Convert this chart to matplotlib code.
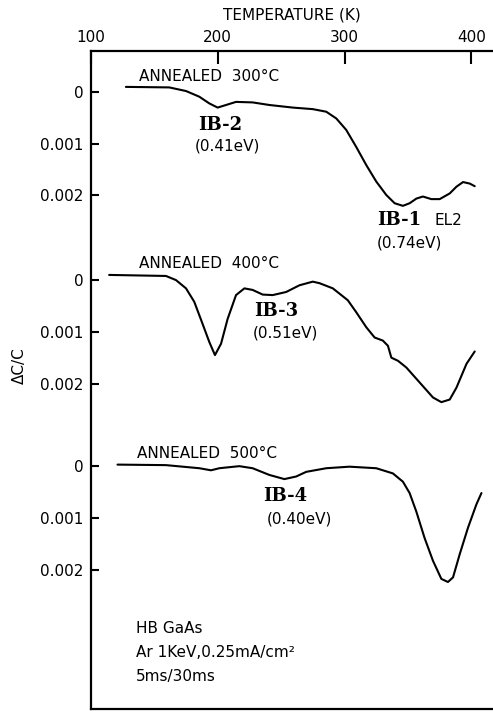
import matplotlib
matplotlib.use('Agg')
import matplotlib.pyplot as plt

# DLTS spectra, HB GaAs after Ar sputtering, three anneal temperatures
# temperatures (K) and dC/C in units of 1e-3 (positive = downward)
t_300 = [127.7, 161.9, 175.1, 185.6, 193.5, 200.0, 205.3, 214.5, 227.6, 240.8,
         259.2, 275.0, 285.6, 293.5, 301.3, 309.2, 317.1, 325.0, 332.9, 339.5,
         346.0, 351.3, 356.6, 361.8, 368.4, 375.0, 382.9, 388.2, 393.4, 398.7,
         402.6]
dc_300 = [-0.10, -0.09, -0.02, 0.09, 0.22, 0.30, 0.26, 0.19, 0.20, 0.25,
          0.30, 0.33, 0.38, 0.51, 0.73, 1.06, 1.41, 1.73, 1.99, 2.15,
          2.20, 2.15, 2.06, 2.02, 2.07, 2.07, 1.96, 1.83, 1.74, 1.77,
          1.82]

t_400 = [114.5, 159.3, 167.2, 175.1, 181.6, 188.2, 193.5, 197.9, 202.7, 207.9,
         214.5, 221.1, 227.6, 235.5, 243.4, 254.0, 264.5, 275.0, 280.3, 290.8,
         302.6, 309.2, 317.1, 323.7, 330.2, 334.2, 336.9, 342.1, 348.7, 359.2,
         369.7, 376.3, 382.9, 388.2, 396.1, 402.6]
dc_400 = [-0.10, -0.08, 0.0, 0.16, 0.42, 0.85, 1.20, 1.45, 1.23, 0.75,
          0.29, 0.16, 0.19, 0.28, 0.29, 0.23, 0.10, 0.03, 0.06, 0.16,
          0.39, 0.62, 0.91, 1.11, 1.17, 1.27, 1.50, 1.56, 1.69, 1.98,
          2.27, 2.36, 2.31, 2.08, 1.62, 1.38]

t_500 = [121.1, 159.3, 185.6, 194.8, 201.3, 217.1, 227.6, 240.8, 252.6, 261.9,
         269.8, 285.6, 303.9, 325.0, 338.1, 346.0, 351.3, 356.6, 363.1, 369.7,
         376.3, 381.5, 385.5, 390.8, 397.3, 403.9, 407.9]
dc_500 = [-0.03, -0.02, 0.04, 0.08, 0.04, 0.0, 0.04, 0.17, 0.25, 0.20,
          0.11, 0.04, 0.01, 0.04, 0.14, 0.30, 0.52, 0.88, 1.39, 1.83,
          2.18, 2.24, 2.15, 1.70, 1.19, 0.74, 0.52]

x_ticks = [100, 200, 300, 400]
y_tick_vals = [0, 1, 2]
y_tick_labels = ['0', '0.001', '0.002']

# vertical offset of each spectrum (in 1e-3 units)
offsets = [0.0, 3.636, 7.234]

fig = plt.figure(figsize=(4.93, 7.13), dpi=100)
ax = fig.add_axes([0.184, 0.0056, 0.816, 0.9233])

for t, dc, off in zip([t_300, t_400, t_500], [dc_300, dc_400, dc_500], offsets):
    ax.plot(t, [v + off for v in dc], color='black', lw=1.5,
            solid_joinstyle='round', solid_capstyle='round')

ax.set_xlim(100, 417)
ax.set_ylim(11.93, -0.80)

# ticks
ax.xaxis.tick_top()
ax.set_xticks(x_ticks)
ax.set_xticklabels([str(v) for v in x_ticks], fontsize=11)
ax.tick_params(axis='x', direction='in', length=9, width=1.5, pad=4)
yt, yl = [], []
for off in offsets:
    for v, lab in zip(y_tick_vals, y_tick_labels):
        yt.append(v + off)
        yl.append(lab)
ax.set_yticks(yt)
ax.set_yticklabels(yl, fontsize=11)
ax.tick_params(axis='y', direction='in', length=6, width=1.5, pad=5)

for s in ['left', 'top', 'bottom']:
    ax.spines[s].set_linewidth(1.6)
ax.spines['right'].set_visible(False)

ax.xaxis.set_label_position('top')
ax.set_xlabel('TEMPERATURE (K)', fontsize=11, labelpad=8)
fig.text(0.04, 1 - 366 / 713, 'ΔC/C', rotation=90, fontsize=11,
         ha='center', va='center')

# annotations
sans = dict(fontsize=11, va='center')
serif = dict(fontsize=13, fontweight='bold', family='DejaVu Serif', va='center', ha='center')
ax.text(138.2, -0.31, 'ANNEALED  300°C', **sans)
ax.text(202.1, 0.64, 'IB-2', **serif)
ax.text(207.7, 1.04, '(0.41eV)', ha='center', **sans)
ax.text(343.0, 2.48, 'IB-1', **serif)
ax.text(371.0, 2.48, 'EL2', **sans)
ax.text(351.3, 2.92, '(0.74eV)', ha='center', **sans)

ax.text(138.2, 3.31, 'ANNEALED  400°C', **sans)
ax.text(246.3, 4.24, 'IB-3', **serif)
ax.text(253.4, 4.66, '(0.51eV)', ha='center', **sans)

ax.text(136.6, 6.98, 'ANNEALED  500°C', **sans)
ax.text(253.4, 7.81, 'IB-4', **serif)
ax.text(264.4, 8.26, '(0.40eV)', ha='center', **sans)

ax.text(135.8, 10.37, 'HB GaAs', **sans)
ax.text(135.8, 10.83, 'Ar 1KeV,0.25mA/cm²', **sans)
ax.text(135.8, 11.30, '5ms/30ms', **sans)

fig.savefig('out.png', dpi=100)
